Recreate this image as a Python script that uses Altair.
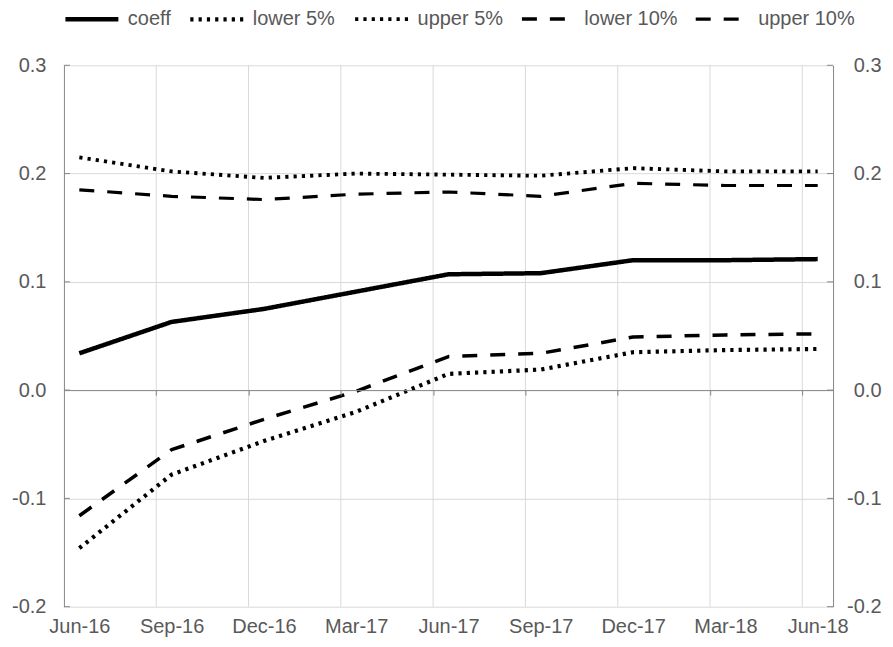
import altair as alt
import pandas as pd

quarters = ["Jun-16", "Sep-16", "Dec-16", "Mar-17", "Jun-17", "Sep-17", "Dec-17", "Mar-18", "Jun-18"]
month_index = [0, 3, 6, 9, 12, 15, 18, 21, 24]

coeff = [0.034, 0.063, 0.075, 0.091, 0.107, 0.108, 0.120, 0.120, 0.121]
lower5 = [-0.146, -0.078, -0.047, -0.020, 0.015, 0.019, 0.035, 0.037, 0.038]
upper5 = [0.215, 0.202, 0.196, 0.200, 0.199, 0.198, 0.205, 0.202, 0.202]
lower10 = [-0.116, -0.055, -0.027, -0.001, 0.031, 0.034, 0.049, 0.051, 0.052]
upper10 = [0.185, 0.179, 0.176, 0.181, 0.183, 0.179, 0.191, 0.189, 0.189]

series_names = ["coeff", "lower 5%", "upper 5%", "lower 10%", "upper 10%"]
y_ticks = [-0.2, -0.1, 0.0, 0.1, 0.2, 0.3]
grid_x = [2.5, 5.5, 8.5, 11.5, 14.5, 17.5, 20.5, 23.5]

rows = []
for name, vals in zip(series_names, [coeff, lower5, upper5, lower10, upper10]):
    for m, q, v in zip(month_index, quarters, vals):
        rows.append({"series": name, "idx": m, "label": q, "value": v})
df = pd.DataFrame(rows)

W, H = 770, 542
xdom = [-0.5, 24.5]
ydom = [-0.2, 0.3]
FONT = "Liberation Sans"
TXT = "#595959"
AXIS_C = "#868686"
GRID_C = "#d9d9d9"
FS = 20

dash_range = [[1, 0], [3.2, 5.1], [3.2, 5.1], [15, 13], [15, 13]]
width_range = [4.5, 3.2, 3.2, 4, 4]

label_expr = "[" + ",".join("'%s'" % q for q in quarters) + "][round(datum.value/3)]"
ylabel_expr = "replace(format(datum.value, '.1f'), '\u2212', '-')"

xscale = alt.Scale(domain=xdom, nice=False, zero=False)


def yscale():
    return alt.Scale(domain=ydom, nice=False, zero=False)


def legend():
    return alt.Legend(
        title=None, orient="none", legendX=-1, legendY=-75, direction="horizontal",
        columns=5, symbolType="stroke", symbolSize=2809, symbolStrokeColor="black",
        labelFont=FONT, labelFontSize=FS, labelColor=TXT, labelOffset=7,
        columnPadding=11,
    )


grid_layer = alt.Chart(pd.DataFrame({"gx": grid_x})).mark_rule(
    color=GRID_C, strokeWidth=1
).encode(
    x=alt.X("gx:Q", scale=xscale, axis=alt.Axis(
        orient="bottom", offset=-H * 0.4, values=grid_x, labels=False,
        ticks=True, tickSize=5, tickColor=AXIS_C, domain=True, domainColor=AXIS_C,
        grid=False, title=None, zindex=1))
)

lines = alt.Chart(df).mark_line(strokeCap="butt", strokeJoin="round", color="black").encode(
    x=alt.X("idx:Q", scale=xscale, axis=alt.Axis(
        orient="bottom", values=month_index, labelExpr=label_expr, labelFont=FONT,
        labelFontSize=FS, labelColor=TXT, ticks=False, tickSize=0, domain=False,
        grid=False, labelPadding=10, title=None)),
    y=alt.Y("value:Q", scale=yscale(), axis=alt.Axis(
        orient="left", values=y_ticks, labelExpr=ylabel_expr, labelFont=FONT,
        labelFontSize=FS, labelColor=TXT, labelPadding=18, ticks=False, tickSize=0,
        domain=True, domainColor=AXIS_C, grid=True, gridColor=GRID_C, title=None)),
    strokeDash=alt.StrokeDash("series:N", scale=alt.Scale(domain=series_names, range=dash_range),
                              legend=legend()),
    strokeWidth=alt.StrokeWidth("series:N", scale=alt.Scale(domain=series_names, range=width_range),
                                legend=legend()),
    order="idx:Q",
)

ticks_df = pd.DataFrame({"yt": y_ticks})
left_ticks = alt.Chart(ticks_df).mark_rule(color=AXIS_C).encode(
    y=alt.Y("yt:Q", scale=yscale(), axis=None),
    x=alt.value(0), x2=alt.value(6),
)
right_ticks = alt.Chart(ticks_df).mark_rule(color=AXIS_C).encode(
    y=alt.Y("yt:Q", scale=yscale(), axis=alt.Axis(
        orient="right", values=y_ticks, labelExpr=ylabel_expr, labelFont=FONT,
        labelFontSize=FS, labelColor=TXT, labelPadding=48, labelAlign="right",
        ticks=False, tickSize=0, domain=True, domainColor=AXIS_C, grid=False, title=None)),
    x=alt.value(W - 6), x2=alt.value(W),
)

chart = alt.layer(grid_layer, lines, left_ticks, right_ticks).resolve_scale(
    x="independent", y="independent"
).properties(
    width=W, height=H,
    padding={"left": 56, "top": 57, "right": 52, "bottom": 32},
    autosize=alt.AutoSizeParams(type="none"),
).configure_view(stroke=None)

chart.save("out.html", embed_options={"renderer": "svg", "actions": False})
